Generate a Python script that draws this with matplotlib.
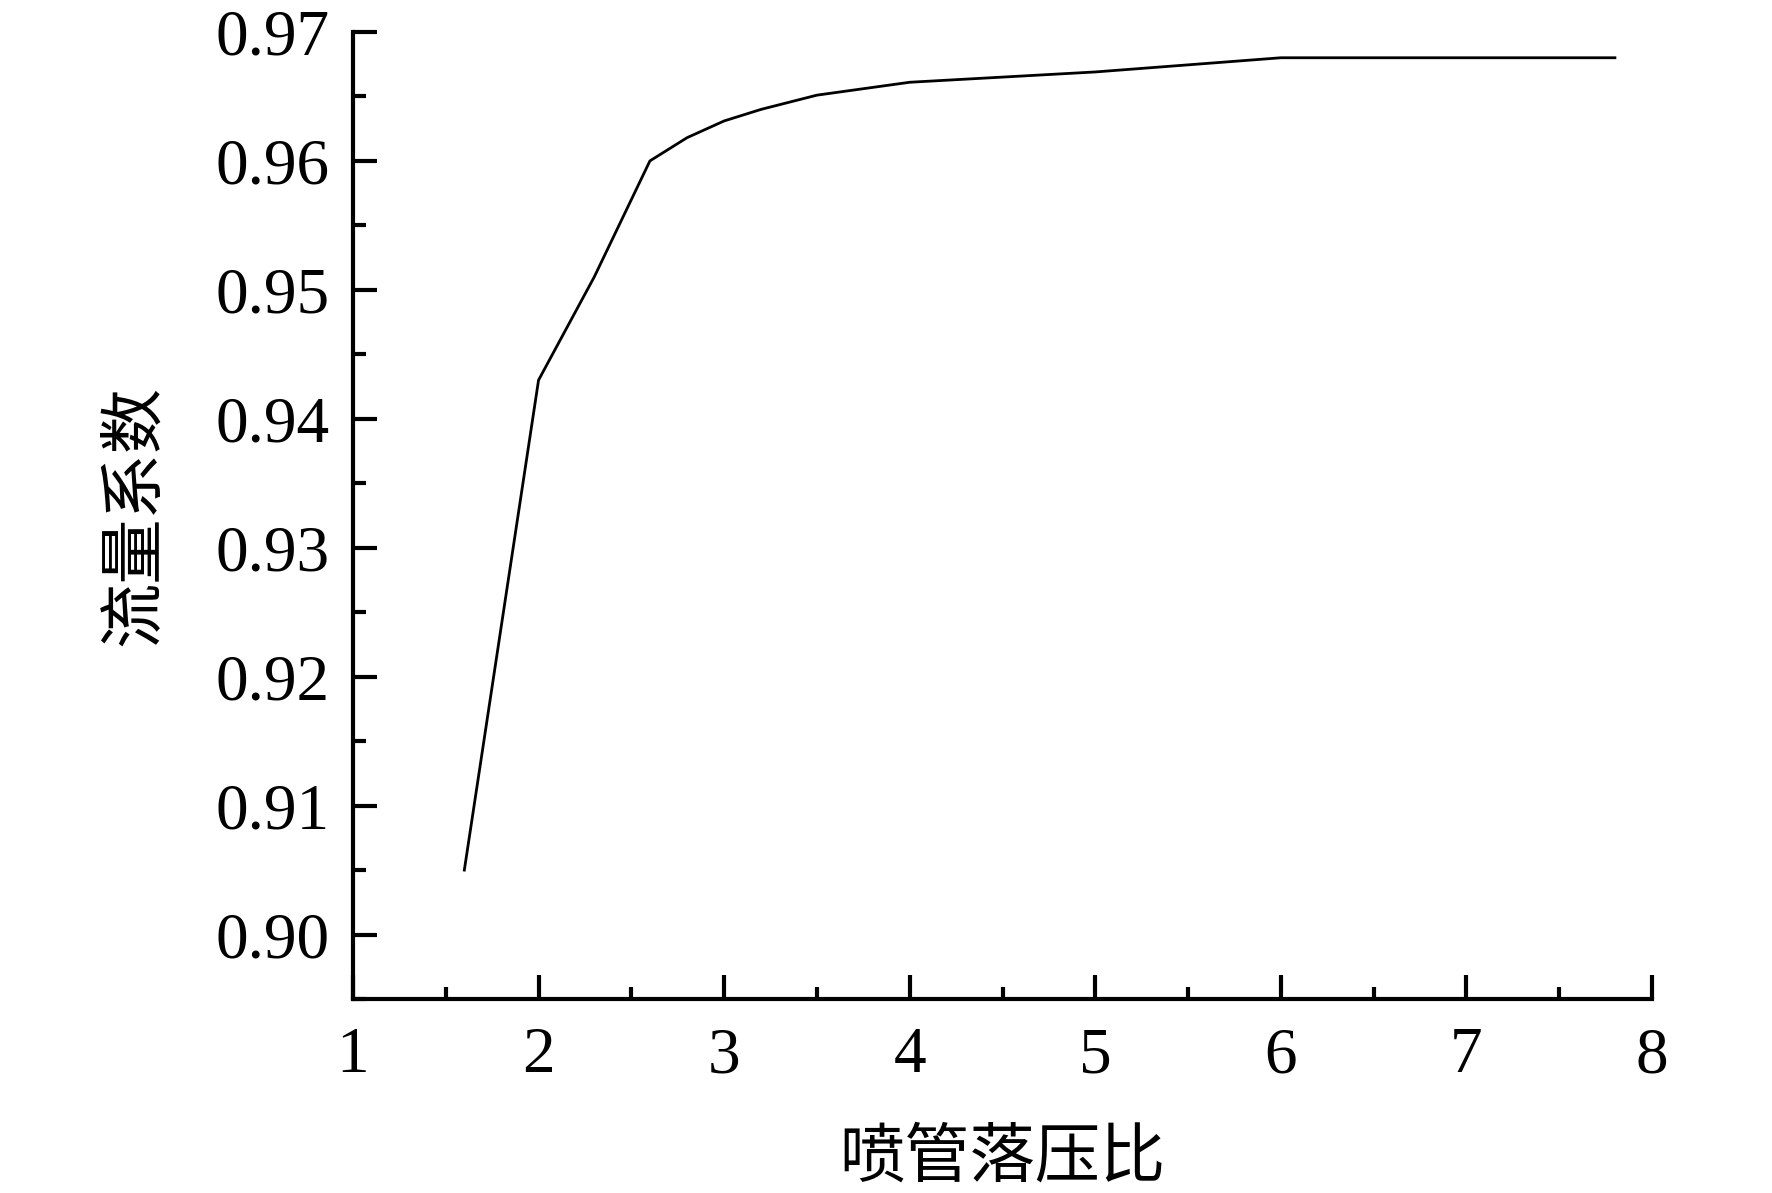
import numpy as np
import matplotlib.pyplot as plt
from matplotlib.ticker import MultipleLocator, FormatStrFormatter

# nozzle pressure ratio vs discharge coefficient
npr = [1.6, 2.0, 2.3, 2.6, 2.8, 3.0, 3.2, 3.5, 4.0, 5.0, 6.0, 7.0, 7.8]
cd = [0.905, 0.943, 0.951, 0.960, 0.9618, 0.9631, 0.9640, 0.9651, 0.9661, 0.9669, 0.9680, 0.9680, 0.9680]

xlabel = "喷管落压比"
ylabel = "流量系数"

plt.rcParams['font.family'] = ['Liberation Serif', 'Noto Sans CJK SC']

fig = plt.figure(figsize=(17.72, 11.93), dpi=100)
ax = fig.add_axes([0.1992, 0.1626, 0.7331, 0.8106])

ax.plot(npr, cd, color="black", lw=2)

ax.set_xlim(1, 8)
ax.set_ylim(0.895, 0.97)
ax.xaxis.set_major_locator(MultipleLocator(1))
ax.xaxis.set_minor_locator(MultipleLocator(0.5))
ax.yaxis.set_major_locator(MultipleLocator(0.01))
ax.yaxis.set_minor_locator(MultipleLocator(0.005))
ax.yaxis.set_major_formatter(FormatStrFormatter("%.2f"))

for s in ["top", "right"]:
    ax.spines[s].set_visible(False)
for s in ["left", "bottom"]:
    ax.spines[s].set_linewidth(3)

ax.tick_params(which="major", direction="in", length=17, width=3, labelsize=47)
ax.tick_params(which="minor", direction="in", length=9, width=3)
ax.tick_params(axis="x", which="major", pad=20)
ax.tick_params(axis="y", which="major", pad=17)

ax.set_xlabel(xlabel, fontsize=47, family=['Noto Sans CJK SC'], labelpad=28)
ax.set_ylabel(ylabel, fontsize=47, family=['Noto Sans CJK SC'], labelpad=34)

fig.savefig("out.png", dpi=100)
